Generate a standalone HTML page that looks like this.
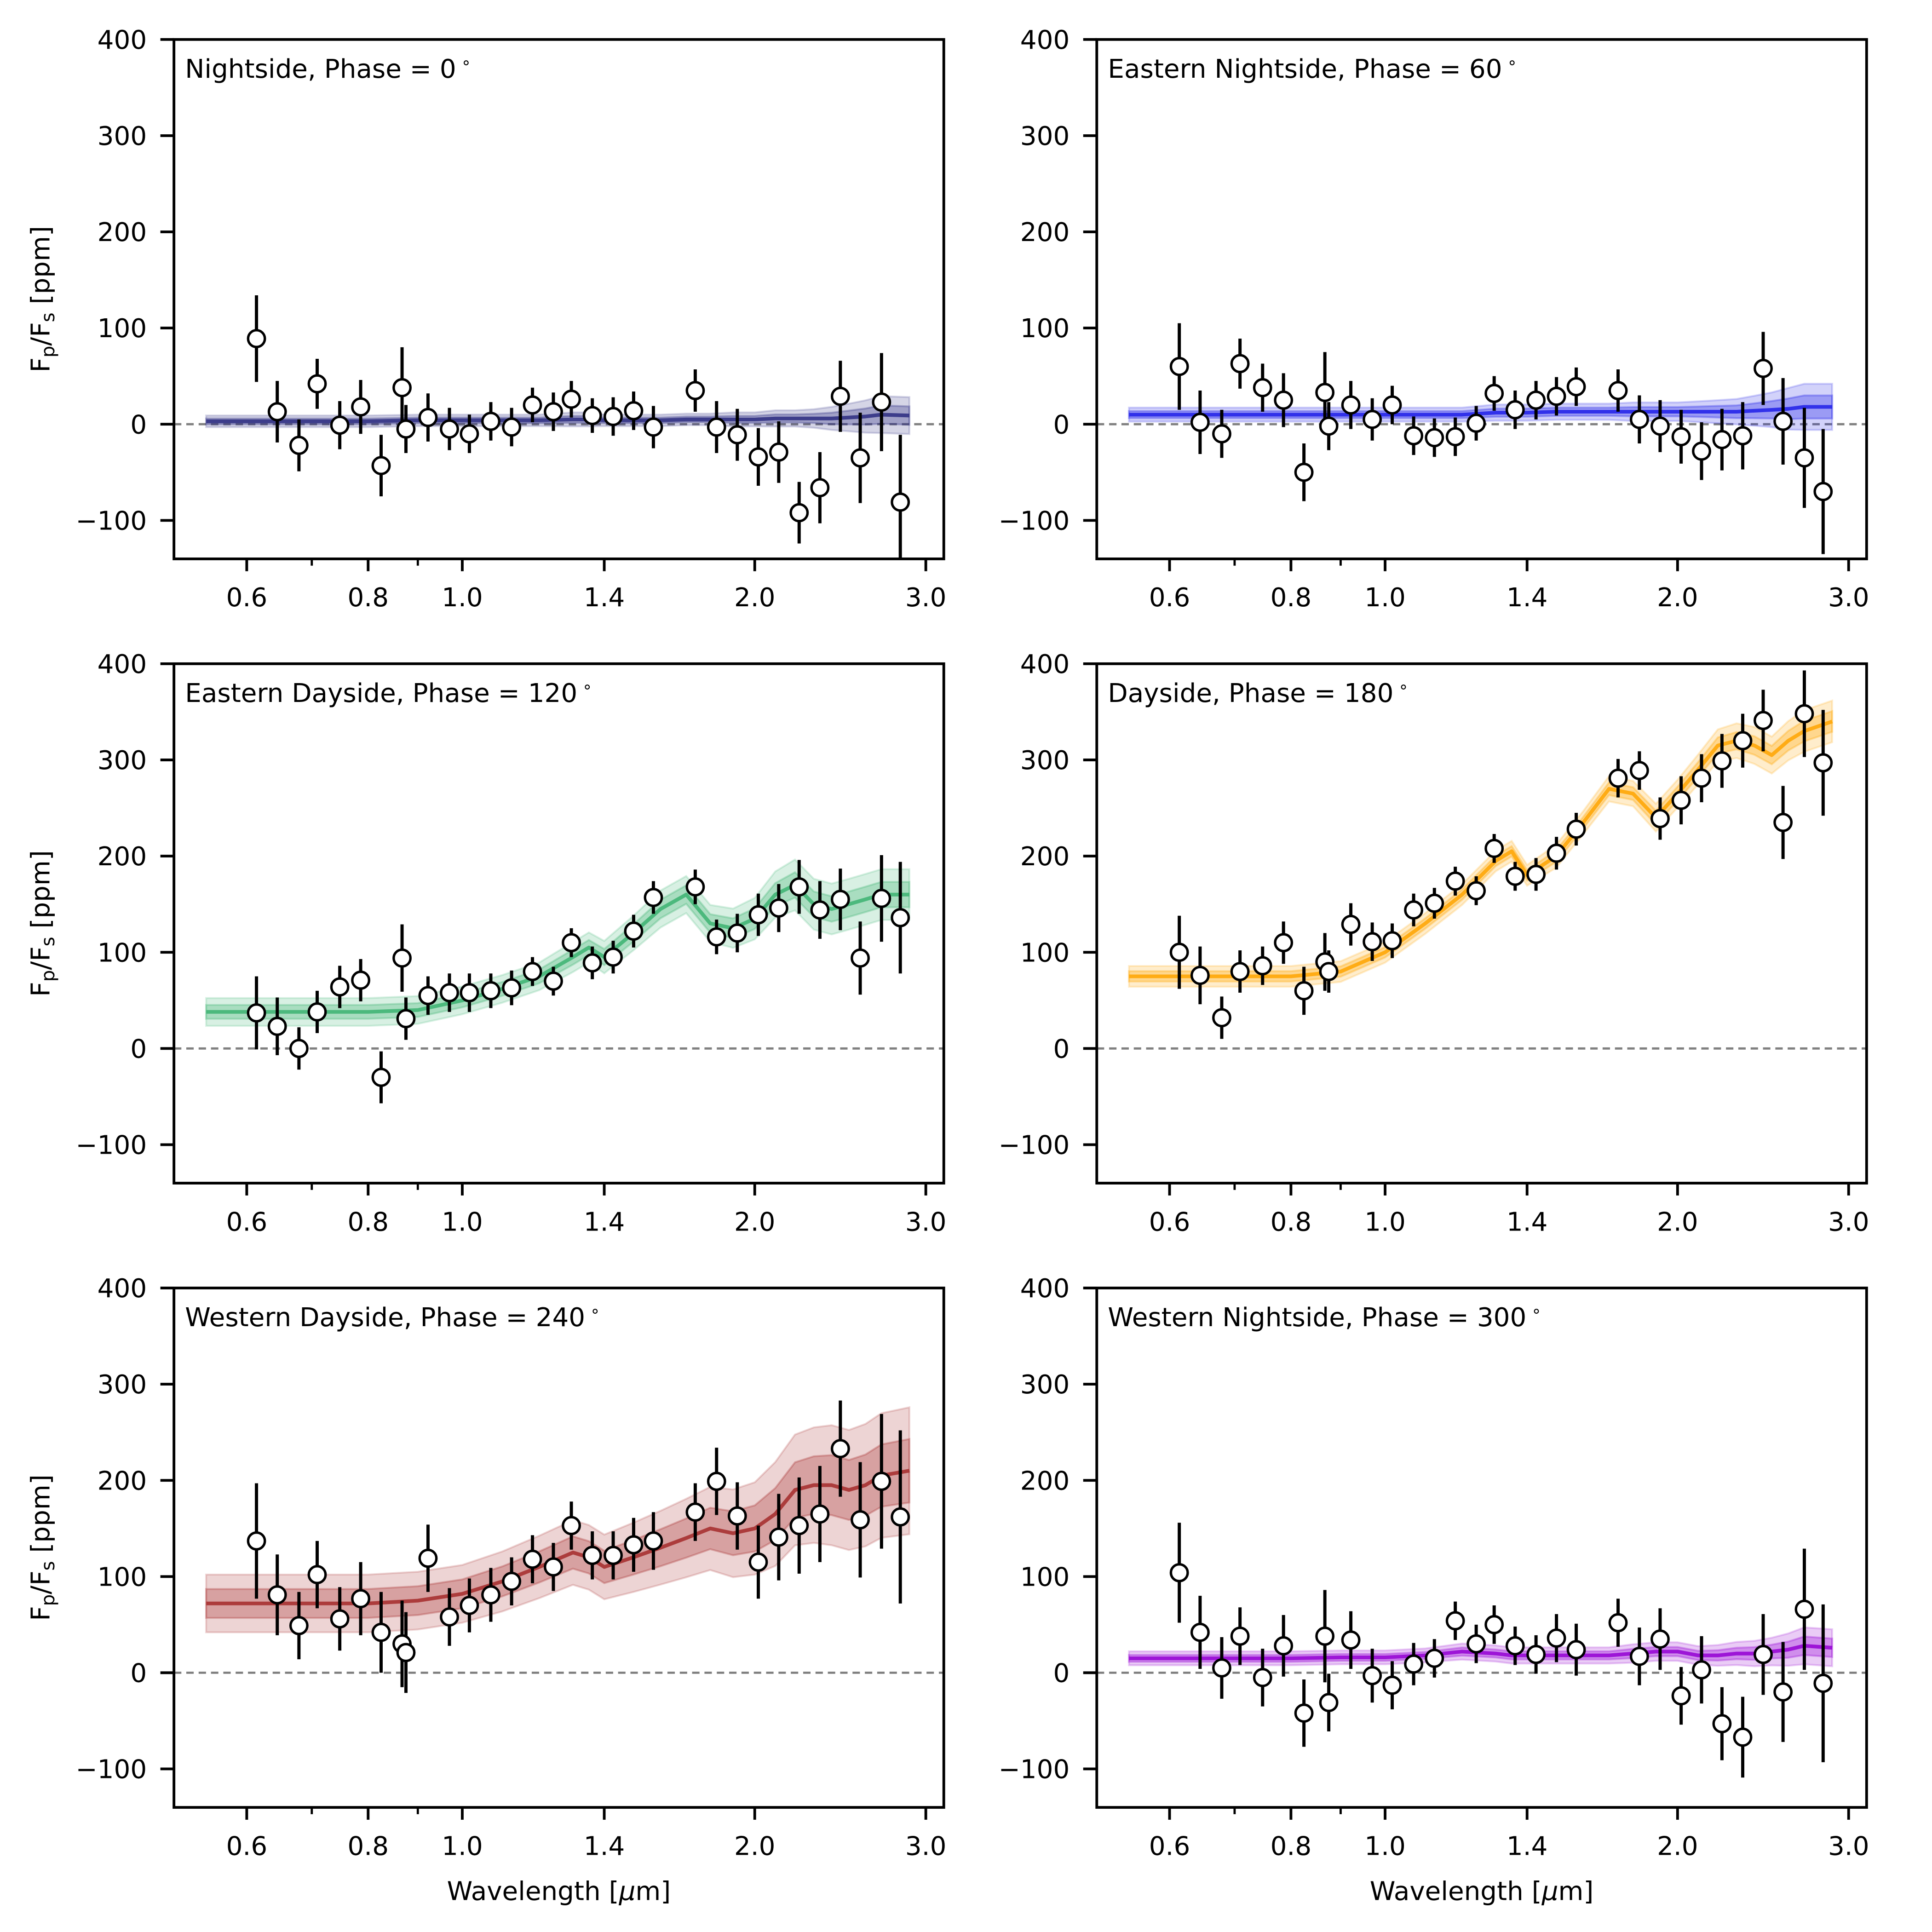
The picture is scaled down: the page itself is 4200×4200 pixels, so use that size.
<!DOCTYPE html>
<html><head><meta charset="utf-8"><style>
html,body{margin:0;padding:0;background:#fff}
svg{display:block}
text{font-family:"DejaVu Sans","Liberation Sans",sans-serif;fill:#000}
</style></head><body>
<svg id="fig" width="4200" height="4200" viewBox="0 0 1566 1566" xmlns="http://www.w3.org/2000/svg"></svg>
<script>
const dataWavelengths=[0.614,0.645,0.679,0.709,0.748,0.786,0.825,0.867,0.875,0.922,0.970,1.017,1.070,1.124,1.181,1.241,1.295,1.361,1.430,1.501,1.573,1.737,1.827,1.919,2.017,2.117,2.222,2.334,2.450,2.568,2.701,2.824];
const modelWavelengths=[0.545,0.6,0.7,0.8,0.9,1.0,1.1,1.2,1.3,1.35,1.4,1.5,1.6,1.7,1.8,1.9,2.0,2.1,2.2,2.3,2.4,2.5,2.6,2.7,2.885];
const panelTitles=["Nightside, Phase = 0","Eastern Nightside, Phase = 60","Eastern Dayside, Phase = 120","Dayside, Phase = 180","Western Dayside, Phase = 240","Western Nightside, Phase = 300"];
const panelColors=["#2b2b80","#1f1fe8","#3cb371","#ffa500","#a52a2a","#9400d3"];
const obs0=[89,13,-22,42,-1,18,-43,38,-5,7,-5,-10,3,-3,20,13,26,9,8,14,-3,35,-3,-11,-34,-29,-92,-66,29,-35,23,-81];
const err0=[45,32,27,26,25,28,32,42,25,25,22,20,20,20,18,20,19,18,20,20,22,22,27,27,30,32,32,37,37,47,51,70];
const obs1=[60,2,-10,63,38,25,-50,33,-2,20,5,20,-12,-14,-13,1,32,15,25,29,39,35,5,-2,-13,-28,-16,-12,58,3,-35,-70];
const err1=[45,33,25,26,25,28,30,42,25,25,22,20,20,20,20,18,18,20,20,20,20,22,25,27,28,30,32,35,38,45,52,65];
const obs2=[37,23,0,38,64,71,-30,94,31,55,58,58,60,63,80,70,110,89,95,122,157,168,116,120,139,146,168,144,155,94,156,136];
const err2=[38,30,22,22,22,22,27,35,22,20,20,20,18,18,15,15,15,17,17,17,17,18,18,20,22,25,28,30,32,38,45,58];
const obs3=[100,76,32,80,86,110,60,90,80,129,111,112,144,151,174,164,208,179,181,203,228,281,289,239,258,281,299,320,341,235,348,297];
const err3=[38,30,22,22,20,22,25,30,22,22,20,18,17,16,15,15,15,15,17,17,17,20,20,22,25,25,28,28,32,38,45,55];
const obs4=[137,81,49,102,56,77,42,30,21,119,58,70,81,95,118,110,153,122,122,133,137,167,199,163,115,141,153,165,233,159,199,162];
const err4=[60,42,35,35,33,38,42,45,42,35,30,28,28,25,25,25,25,25,25,28,30,30,35,35,38,45,50,50,50,60,70,90];
const obs5=[104,42,5,38,-5,28,-42,38,-31,34,-3,-13,9,15,54,30,50,28,19,36,24,52,17,35,-24,3,-53,-67,19,-20,66,-11];
const err5=[52,38,32,30,30,32,35,48,30,30,28,25,22,20,20,20,20,20,20,25,27,25,30,32,30,35,38,42,42,52,63,82];
const model0=[3,3,3,3,4,4,4,4,5,5,4,4,4,5,5,5,5,6,6,6,6,7,8,10,9];
const sig0=[5,5,5,5,5,5,5,5,6,6,5,5,5,5,5,6,6,7,7,8,10,12,14,16,16];
const model1=[10,10,10,10,10,10,10,10,12,12,12,13,13,13,13,13,13,13,13,13,14,15,16,18,18];
const sig1=[6,6,6,6,6,6,6,6,7,7,7,7,7,7,8,8,8,9,10,11,13,15,18,20,20];
const model2=[38,38,38,38,40,50,62,75,95,105,95,120,145,160,130,125,135,160,170,150,145,150,155,160,160];
const sig2=[12,12,12,12,12,12,12,12,13,13,14,15,16,16,16,17,18,20,22,22,22,22,22,22,22];
const model3=[75,75,75,75,80,100,130,160,195,205,180,200,235,270,265,240,265,290,315,320,315,305,320,330,340];
const sig3=[9,9,9,9,9,9,9,9,9,9,9,10,10,11,11,12,12,13,14,15,16,16,17,18,18];
const model4=[72,72,72,72,75,82,95,110,125,120,110,120,130,140,150,145,150,165,190,195,195,190,195,205,210];
const sig4=[25,25,25,25,25,25,26,27,28,28,28,30,32,34,36,38,40,45,48,50,52,52,53,54,55];
const model5=[15,15,15,15,16,16,18,22,20,18,18,18,18,18,20,22,22,18,18,20,20,22,24,28,26];
const sig5=[6,6,6,6,6,6,6,7,7,7,7,7,7,7,8,8,8,8,9,10,11,12,14,16,16];
const yTicks=[-100,0,100,200,300,400];
const xTickMajor=[0.6,0.8,1.0,1.4,2.0,3.0];
const xTickLabels=["0.6","0.8","1.0","1.4","2.0","3.0"];
const xTickMinor=[0.7,0.9];

const obsAll=[obs0,obs1,obs2,obs3,obs4,obs5];
const errAll=[err0,err1,err2,err3,err4,err5];
const modelAll=[model0,model1,model2,model3,model4,model5];
const sigAll=[sig0,sig1,sig2,sig3,sig4,sig5];

const NS="http://www.w3.org/2000/svg";
const fig=document.getElementById('fig');
function mk(tag,attrs,parent){const e=document.createElementNS(NS,tag);for(const k in attrs)e.setAttribute(k,attrs[k]);parent.appendChild(e);return e;}
const W=624,H=421,YMIN=-140,YMAX=400,FS=21;
const cols=[141,889],rows=[32,538,1044];
for(let p=0;p<6;p++){
  const L=cols[p%2],T=rows[Math.floor(p/2)];
  const xs=w=>L+59+342*Math.log(w/0.6);
  const ys=v=>T+(YMAX-v)/(YMAX-YMIN)*H;
  const g=mk('g',{},fig);
  
  
  const clipId='clip'+p;
  const cp=mk('clipPath',{id:clipId},g);mk('rect',{x:L,y:T,width:W,height:H},cp);
  const plot=mk('g',{'clip-path':'url(#'+clipId+')'},g);
  const z=mk('line',{x1:L,x2:L+W,y1:ys(0),y2:ys(0),stroke:'#808080','stroke-width':1.8,'stroke-dasharray':'6,4'},plot);
  
  
  const m=modelAll[p],s=sigAll[p],col=panelColors[p];
  [[1.2,0.2],[0.6,0.3]].forEach(([k,a])=>{
    let d='';
    modelWavelengths.forEach((w,i)=>{d+=(i?'L':'M')+xs(w).toFixed(1)+','+ys(m[i]+k*s[i]).toFixed(1);});
    for(let i=modelWavelengths.length-1;i>=0;i--)d+='L'+xs(modelWavelengths[i]).toFixed(1)+','+ys(m[i]-k*s[i]).toFixed(1);
    const b=mk('path',{d:d+'Z',fill:col,'fill-opacity':a,stroke:col,'stroke-opacity':a,'stroke-width':1.5},plot);
    
    
  });
  let d='';modelWavelengths.forEach((w,i)=>{d+=(i?'L':'M')+xs(w).toFixed(1)+','+ys(m[i]).toFixed(1);});
  const ml=mk('path',{d:d,fill:'none',stroke:col,'stroke-width':3,'stroke-opacity':0.85,'stroke-linejoin':'round'},plot);
  
  
  const o=obsAll[p],e=errAll[p];
  dataWavelengths.forEach((w,i)=>{
    const eb=mk('line',{x1:xs(w),x2:xs(w),y1:ys(o[i]-e[i]),y2:ys(o[i]+e[i]),stroke:'#000','stroke-width':2.6},plot);
    
    
  });
  dataWavelengths.forEach((w,i)=>{
    const c=mk('circle',{cx:xs(w),cy:ys(o[i]),r:6.8,fill:'#fff',stroke:'#000','stroke-width':2},plot);
    
    
  });
  const fr=mk('rect',{x:L,y:T,width:W,height:H,fill:'none',stroke:'#000','stroke-width':2.2},g);
  
  
  yTicks.forEach(v=>{
    mk('line',{x1:L-11,x2:L,y1:ys(v),y2:ys(v),stroke:'#000','stroke-width':2.2},g);
    const t=mk('text',{x:L-22,y:ys(v)+7.5,'text-anchor':'end','font-size':FS},g);
    t.textContent=v<0?'\u2212'+(-v):String(v);
    
    
  });
  xTickMajor.forEach((w,i)=>{
    mk('line',{x1:xs(w),x2:xs(w),y1:T+H,y2:T+H+10,stroke:'#000','stroke-width':2.2},g);
    const t=mk('text',{x:xs(w),y:T+H+38.5,'text-anchor':'middle','font-size':FS},g);
    t.textContent=xTickLabels[i];
    
    
  });
  xTickMinor.forEach(w=>{mk('line',{x1:xs(w),x2:xs(w),y1:T+H,y2:T+H+5.5,stroke:'#000','stroke-width':1.8},g);});
  const tt=mk('text',{x:L+9,y:T+31,'font-size':FS},g);
  tt.textContent=panelTitles[p];
  const sup=mk('tspan',{'font-size':13,dy:-8,dx:4},tt);sup.textContent='\u2218';
  
  
  if(p%2===0){
    const cy=T+H/2;
    const yl=mk('text',{x:40,y:cy,'text-anchor':'middle','font-size':FS,transform:'rotate(-90 40 '+cy+')'},g);
    yl.innerHTML='F<tspan font-size="15" dy="4">p</tspan><tspan dy="-4">/F</tspan><tspan font-size="15" dy="4">s</tspan><tspan dy="-4"> [ppm]</tspan>';
    
    
  }
  if(p>=4){
    const xl=mk('text',{x:L+W/2,y:T+H+75,'text-anchor':'middle','font-size':FS},g);
    xl.innerHTML='Wavelength [<tspan font-style="italic">μ</tspan>m]';
    
    
  }
}
</script>
</body></html>
